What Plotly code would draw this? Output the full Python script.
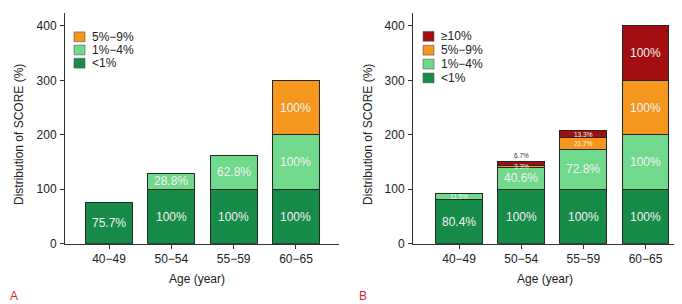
import plotly.graph_objects as go

# ---------------- data ----------------
categories = ["40−49", "50−54", "55−59", "60−65"]

a_series = ["<1%", "1%−4%", "5%−9%"]
a_lt1 = [75.7, 100, 100, 100]
a_1to4 = [None, 28.8, 62.8, 100]
a_5to9 = [None, None, None, 100]

b_series = ["<1%", "1%−4%", "5%−9%", "≥10%"]
b_lt1 = [80.4, 100, 100, 100]
b_1to4 = [11.5, 40.6, 72.8, 100]
b_5to9 = [None, 3.3, 21.7, 100]
b_ge10 = [None, 6.7, 13.3, 100]

y_ticks = [0, 100, 200, 300, 400]

colors = {"<1%": "#178c48", "1%−4%": "#70d98b", "5%−9%": "#f5961e", "≥10%": "#a30d0f"}

# ---------------- layout helpers ----------------
W, H = 682, 304
def px(x): return x / W
def py(y): return 1 - y / H

FONT = "Liberation Sans, Arial, Helvetica, sans-serif"
AXC = "#333333"

fig = go.Figure()

panels = [
    dict(xa="x", ya="y", names=a_series, vals=[a_lt1, a_1to4, a_5to9],
         dom=(57, 331), xr=(-0.706, 3.69)),
    dict(xa="x2", ya="y2", names=b_series, vals=[b_lt1, b_1to4, b_5to9, b_ge10],
         dom=(405, 681), xr=(-0.741, 3.70)),
]

annotations = []
shapes = []

for p in panels:
    cum = [0.0] * len(categories)
    for name, vals in zip(p["names"], p["vals"]):
        fig.add_trace(go.Bar(
            x=list(range(len(categories))), y=vals, name=name,
            xaxis=p["xa"], yaxis=p["ya"], width=0.755,
            marker=dict(color=colors[name], line=dict(color="#1e2a22", width=1)),
            showlegend=False, hoverinfo="skip"))
        for i, v in enumerate(vals):
            if v is None:
                continue
            mid = cum[i] + v / 2
            small = v < 25
            label = f"{v:g}%"
            if name == "≥10%" and v < 10:
                # label placed just above the top of the stack
                annotations.append(dict(x=i, y=cum[i] + v, xref=p["xa"], yref=p["ya"],
                                        text=label, showarrow=False, yanchor="bottom", yshift=1,
                                        font=dict(size=6.5, color="#333333", family=FONT)))
            else:
                annotations.append(dict(x=i, y=mid, xref=p["xa"], yref=p["ya"], text=label,
                                        showarrow=False, yanchor="middle", xanchor="center",
                                        font=dict(size=6.5 if small else 12,
                                                  color="#f2f2f2", family=FONT)))
            cum[i] += v

axis_common = dict(showline=True, linecolor=AXC, linewidth=1, ticks="outside",
                   ticklen=4, tickcolor=AXC, showgrid=False, zeroline=False,
                   tickfont=dict(size=12, color="#222222", family=FONT))

y_top_px, y_bot_px = 5, 241.3
yrange = (0, 424)

fig.update_layout(
    xaxis=dict(domain=[px(57), px(331)], range=list(panels[0]["xr"]), anchor="y",
               tickvals=list(range(4)), ticktext=categories, ticklabelstandoff=0, **axis_common),
    yaxis=dict(domain=[py(y_bot_px), py(y_top_px)], range=list(yrange), anchor="x",
               tickvals=y_ticks, ticklabelstandoff=1, **axis_common),
    xaxis2=dict(domain=[px(405), px(681)], range=list(panels[1]["xr"]), anchor="y2",
                tickvals=list(range(4)), ticktext=categories, ticklabelstandoff=0, **axis_common),
    yaxis2=dict(domain=[py(y_bot_px), py(y_top_px)], range=list(yrange), anchor="x2",
                tickvals=y_ticks, ticklabelstandoff=1, **axis_common),
    barmode="stack",
    width=W, height=H,
    margin=dict(l=0, r=0, t=0, b=0),
    paper_bgcolor="white", plot_bgcolor="white",
    font=dict(family=FONT, size=12, color="#222222"),
    showlegend=False,
)

def paper_text(x, y, text, **kw):
    d = dict(x=px(x), y=py(y), xref="paper", yref="paper", text=text, showarrow=False,
             xanchor=kw.pop("xanchor", "center"), yanchor="middle")
    d.update(kw)
    annotations.append(d)

# axis titles
for xc in (11, 360):
    paper_text(xc, 130, "Distribution of SCORE (%)", textangle=-90,
               font=dict(size=12, color="#222222", family=FONT))
for xc in (189, 537):
    paper_text(xc, 277, "Age (year)", font=dict(size=12, color="#222222", family=FONT))

# panel letters
for letter, xc in (("A", 6), ("B", 355)):
    paper_text(xc, 295, letter, font=dict(size=12, color="#d42a3c", family=FONT))

# legends (top entry first = top of stack)
legends = [(66, a_series[::-1], 29.5, 13.5), (415, b_series[::-1], 29, 14.2)]
for x0, names, ystart, step in legends:
    for k, name in enumerate(names):
        yc = ystart + k * step
        shapes.append(dict(type="rect", xref="paper", yref="paper",
                           x0=px(x0), x1=px(x0 + 11), y0=py(yc + 5), y1=py(yc - 5),
                           fillcolor=colors[name], line=dict(color="#555555", width=0.6)))
        paper_text(x0 + 16, yc, name, xanchor="left",
                   font=dict(size=12, color="#222222", family=FONT))

fig.update_layout(annotations=annotations, shapes=shapes)
fig.write_html("out.html")
